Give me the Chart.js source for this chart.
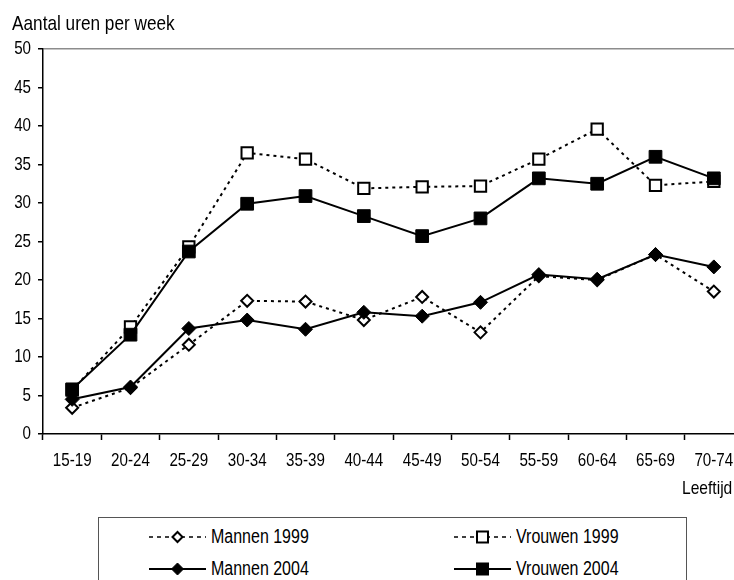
<!DOCTYPE html>
<html lang="nl">
<head>
<meta charset="utf-8">
<title>Aantal uren per week naar leeftijd</title>
<script src="https://cdn.jsdelivr.net/npm/chart.js@4/dist/chart.umd.min.js"></script>
<style>
  html, body { margin: 0; padding: 0; width: 734px; height: 580px; overflow: hidden; background: #fff; }
  body { position: relative; color: #000; font-family: "Liberation Sans", Arial, sans-serif; }
  #wrap { position: absolute; left: 0; top: 0; width: 760px; height: 500px; }
  .txt { position: absolute; line-height: 1; white-space: nowrap; }
  /* smalle letter: horizontaal samengedrukt */
  .narrow { display: inline-block; transform: scaleX(0.82); }
  #ytitle { left: 12px; top: 11.5px; font-size: 21px; transform-origin: left center; }
  #xtitle { right: 2px; top: 477.5px; font-size: 19px; transform-origin: right center; }
  #legend { position: absolute; left: 98px; top: 517px; width: 589px; height: 120px;
            border: 1px solid #555; box-sizing: border-box; }
  .item { position: absolute; height: 20px; display: flex; align-items: center; line-height: 1; font-size: 19.5px; }
  .item svg { display: block; margin-right: 5px; flex: none; }
  .item span { transform-origin: left center; }
</style>
</head>
<body>
<div id="wrap"><canvas id="chart" width="760" height="500"></canvas></div>
<div class="txt narrow" id="ytitle">Aantal uren per week</div>
<div class="txt narrow" id="xtitle">Leeftijd</div>
<div id="legend"></div>

<script>
// Leeftijdsklassen
const ageGroups = ['15-19', '20-24', '25-29', '30-34', '35-39', '40-44',
                   '45-49', '50-54', '55-59', '60-64', '65-69', '70-74'];

// Gemiddeld aantal uren per week
const mannen1999  = [3.4, 6.0, 11.6, 17.3, 17.2, 14.8, 17.8, 13.2, 20.5, 20.0, 23.3, 18.5];
const vrouwen1999 = [5.7, 13.9, 24.3, 36.5, 35.7, 31.9, 32.1, 32.2, 35.7, 39.6, 32.3, 32.8];
const mannen2004  = [4.5, 6.1, 13.7, 14.8, 13.6, 15.8, 15.3, 17.1, 20.7, 20.1, 23.3, 21.7];
const vrouwen2004 = [5.8, 12.9, 23.7, 29.9, 30.9, 28.3, 25.7, 28.0, 33.2, 32.5, 36.0, 33.2];

const yTicks = [0, 5, 10, 15, 20, 25, 30, 35, 40, 45, 50];

const FONT = '"Liberation Sans", Arial, sans-serif';
const TICK_SIZE = 18.5;
const SQUEEZE = 0.82;
const DOTTED = [3, 4];

// Aslabels in een smalle letter, op de posities van de schalen zelf
function drawNarrow(ctx, text, x, y, align) {
  ctx.save();
  ctx.translate(x, y);
  ctx.scale(SQUEEZE, 1);
  ctx.textAlign = align;
  ctx.fillText(text, 0, 0);
  ctx.restore();
}
const narrowTickLabels = {
  id: 'narrowTickLabels',
  afterDraw(chart) {
    const ctx = chart.ctx;
    const xs = chart.scales.x;
    const ys = chart.scales.y;
    ctx.save();
    ctx.fillStyle = '#000';
    ctx.font = TICK_SIZE + 'px ' + FONT;
    ctx.textBaseline = 'middle';
    xs.ticks.forEach((t, i) => {
      drawNarrow(ctx, xs.getLabelForValue(t.value), xs.getPixelForTick(i), xs.top + 27, 'center');
    });
    ys.ticks.forEach((t) => {
      drawNarrow(ctx, String(t.value), ys.right - 12, ys.getPixelForValue(t.value), 'right');
    });
    ctx.restore();
  }
};

function series(label, data, style) {
  return Object.assign({
    label: label,
    data: data,
    borderColor: '#000',
    borderWidth: 2,
    pointBorderColor: '#000',
    pointHoverRadius: 0,
    tension: 0,
    fill: false
  }, style);
}

const datasets = [
  series('Mannen 2004', mannen2004, {
    order: 0, pointStyle: 'rectRot', pointRadius: 7,
    pointBackgroundColor: '#000', pointBorderWidth: 1
  }),
  series('Vrouwen 2004', vrouwen2004, {
    order: 1, pointStyle: 'rect', pointRadius: 9,
    pointBackgroundColor: '#000', pointBorderWidth: 1
  }),
  series('Mannen 1999', mannen1999, {
    order: 2, borderDash: DOTTED, pointStyle: 'rectRot', pointRadius: 6,
    pointBackgroundColor: '#fff', pointBorderWidth: 2
  }),
  series('Vrouwen 1999', vrouwen1999, {
    order: 3, borderDash: DOTTED, pointStyle: 'rect', pointRadius: 8,
    pointBackgroundColor: '#fff', pointBorderWidth: 2
  })
];

new Chart(document.getElementById('chart'), {
  type: 'line',
  data: { labels: ageGroups, datasets: datasets },
  plugins: [narrowTickLabels],
  options: {
    responsive: false,
    animation: false,
    layout: { padding: { top: 49, right: 17, bottom: 0, left: 0 } },
    plugins: { legend: { display: false }, tooltip: { enabled: false } },
    scales: {
      x: {
        type: 'category',
        offset: true,
        grid: {
          offset: true,
          drawOnChartArea: false,
          drawTicks: true,
          tickLength: 6,
          tickColor: '#000',
          tickWidth: 1.5
        },
        border: { color: '#000', width: 1.5 },
        ticks: {
          color: 'rgba(0,0,0,0)',
          font: { family: FONT, size: 14 },
          maxRotation: 0,
          autoSkip: false
        },
        afterFit: (scale) => { scale.height = 66; }
      },
      y: {
        min: 0,
        max: 50,
        afterBuildTicks: (scale) => { scale.ticks = yTicks.map(v => ({ value: v })); },
        grid: {
          drawOnChartArea: true,
          drawTicks: true,
          tickLength: 5,
          tickColor: '#000',
          tickWidth: 1.5,
          color: (ctx) => (ctx.tick && ctx.tick.value === 50 ? '#8c8c8c' : 'rgba(0,0,0,0)'),
          lineWidth: 1.5
        },
        border: { color: '#000', width: 1.5 },
        ticks: {
          color: 'rgba(0,0,0,0)',
          font: { family: FONT, size: 14 }
        },
        afterFit: (scale) => { scale.width = 43; }
      }
    }
  }
});

// Legenda onder de grafiek
const legendItems = [
  { label: 'Mannen 1999',  dashed: true,  shape: 'diamond', filled: false, x: 50,  y: 9 },
  { label: 'Vrouwen 1999', dashed: true,  shape: 'square',  filled: false, x: 355, y: 9 },
  { label: 'Mannen 2004',  dashed: false, shape: 'diamond', filled: true,  x: 50,  y: 41 },
  { label: 'Vrouwen 2004', dashed: false, shape: 'square',  filled: true,  x: 355, y: 41 }
];

const legend = document.getElementById('legend');
const NS = 'http://www.w3.org/2000/svg';
legendItems.forEach(it => {
  const div = document.createElement('div');
  div.className = 'item';
  div.style.left = it.x + 'px';
  div.style.top = it.y + 'px';
  const svg = document.createElementNS(NS, 'svg');
  svg.setAttribute('width', '57');
  svg.setAttribute('height', '16');
  const line = document.createElementNS(NS, 'line');
  line.setAttribute('x1', '0'); line.setAttribute('x2', '57');
  line.setAttribute('y1', '8'); line.setAttribute('y2', '8');
  line.setAttribute('stroke', '#000');
  line.setAttribute('stroke-width', it.dashed ? '1.5' : '2');
  if (it.dashed) line.setAttribute('stroke-dasharray', '4 4');
  svg.appendChild(line);
  let mark;
  if (it.shape === 'diamond') {
    mark = document.createElementNS(NS, 'polygon');
    const r = it.filled ? 6 : 5;
    mark.setAttribute('points', `${28.5 - r},8 28.5,${8 - r} ${28.5 + r},8 28.5,${8 + r}`);
  } else {
    mark = document.createElementNS(NS, 'rect');
    const s = it.filled ? 12 : 11;
    mark.setAttribute('x', 28.5 - s / 2); mark.setAttribute('y', 8 - s / 2);
    mark.setAttribute('width', s); mark.setAttribute('height', s);
  }
  mark.setAttribute('fill', it.filled ? '#000' : '#fff');
  mark.setAttribute('stroke', '#000');
  mark.setAttribute('stroke-width', it.filled ? '1' : '2');
  svg.appendChild(mark);
  div.appendChild(svg);
  const span = document.createElement('span');
  span.className = 'narrow';
  span.textContent = it.label;
  div.appendChild(span);
  legend.appendChild(div);
});
</script>
</body>
</html>
